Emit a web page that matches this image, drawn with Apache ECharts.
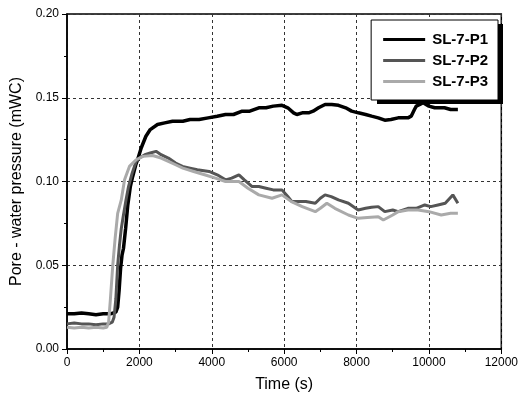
<!DOCTYPE html>
<html>
<head>
<meta charset="utf-8">
<script src="https://cdn.jsdelivr.net/npm/echarts@6/dist/echarts.min.js"></script>
<style>
  html, body { margin: 0; padding: 0; background: #fff; }
  #main { width: 521px; height: 405px; }
</style>
</head>
<body>
<div id="main"></div>
<script>
// series names
var seriesNames = ['SL-7-P1', 'SL-7-P2', 'SL-7-P3'];

// SL-7-P1, time (s) and pressure (mWC)
var p1Time = [0, 200, 400, 600, 800, 1000, 1200, 1350, 1400, 1440, 1480, 1520, 1560, 1620, 1680, 1750, 1815, 1900, 1950, 2050, 2180, 2300, 2500, 2700, 2915, 3200, 3400, 3650, 3900, 4150, 4380, 4600, 4840, 5050, 5300, 5500, 5700, 5940, 6100, 6260, 6350, 6500, 6675, 6800, 6950, 7130, 7315, 7500, 7700, 7865, 8050, 8250, 8415, 8600, 8780, 8950, 9150, 9300, 9420, 9510, 9600, 9650, 9750, 9840, 10000, 10160, 10300, 10430, 10600, 10800];
var p1Value = [0.021, 0.021, 0.0215, 0.021, 0.0205, 0.021, 0.021, 0.022, 0.025, 0.035, 0.048, 0.056, 0.060, 0.072, 0.086, 0.097, 0.103, 0.110, 0.113, 0.120, 0.127, 0.131, 0.134, 0.135, 0.136, 0.136, 0.137, 0.137, 0.138, 0.139, 0.140, 0.140, 0.142, 0.142, 0.144, 0.144, 0.145, 0.1455, 0.144, 0.141, 0.140, 0.141, 0.141, 0.142, 0.144, 0.146, 0.146, 0.1455, 0.144, 0.142, 0.141, 0.140, 0.139, 0.138, 0.1366, 0.137, 0.138, 0.138, 0.138, 0.139, 0.143, 0.145, 0.146, 0.147, 0.145, 0.144, 0.144, 0.144, 0.143, 0.143];

// SL-7-P2
var p2Time = [0, 200, 400, 600, 800, 1000, 1150, 1250, 1300, 1350, 1400, 1450, 1500, 1560, 1630, 1700, 1800, 1910, 2000, 2150, 2300, 2460, 2600, 2800, 3000, 3190, 3400, 3600, 3925, 4150, 4380, 4550, 4750, 4900, 5115, 5300, 5500, 5700, 5940, 6100, 6215, 6400, 6600, 6860, 7000, 7130, 7300, 7500, 7775, 8045, 8250, 8415, 8600, 8780, 9000, 9150, 9420, 9650, 9885, 10050, 10250, 10450, 10660, 10800];
var p2Value = [0.015, 0.0155, 0.015, 0.015, 0.0145, 0.015, 0.015, 0.016, 0.019, 0.030, 0.050, 0.062, 0.072, 0.080, 0.089, 0.097, 0.105, 0.112, 0.114, 0.116, 0.117, 0.118, 0.116, 0.114, 0.111, 0.109, 0.108, 0.107, 0.106, 0.104, 0.101, 0.102, 0.104, 0.101, 0.097, 0.097, 0.096, 0.095, 0.095, 0.091, 0.088, 0.088, 0.088, 0.087, 0.090, 0.092, 0.091, 0.089, 0.087, 0.083, 0.084, 0.0846, 0.085, 0.082, 0.083, 0.082, 0.084, 0.084, 0.086, 0.085, 0.086, 0.087, 0.092, 0.087];

// SL-7-P3
var p3Time = [0, 200, 400, 600, 800, 1000, 1100, 1150, 1200, 1265, 1330, 1400, 1500, 1590, 1725, 1910, 2100, 2365, 2600, 2800, 3000, 3200, 3500, 3800, 4100, 4380, 4750, 5000, 5300, 5665, 5940, 6200, 6500, 6860, 7000, 7180, 7400, 7775, 8045, 8300, 8600, 8740, 9000, 9150, 9420, 9700, 10000, 10340, 10600, 10800];
var p3Value = [0.013, 0.0125, 0.013, 0.0125, 0.013, 0.0125, 0.013, 0.016, 0.030, 0.050, 0.066, 0.081, 0.089, 0.101, 0.109, 0.113, 0.115, 0.1155, 0.114, 0.112, 0.110, 0.108, 0.106, 0.104, 0.102, 0.100, 0.100, 0.096, 0.092, 0.090, 0.092, 0.088, 0.085, 0.082, 0.084, 0.087, 0.084, 0.080, 0.078, 0.0785, 0.079, 0.077, 0.080, 0.082, 0.083, 0.083, 0.082, 0.080, 0.081, 0.081];

function pairs(t, v) {
    var out = [];
    for (var i = 0; i < t.length; i++) out.push([t[i], v[i]]);
    return out;
}

var font = '"Liberation Sans", Arial, sans-serif';
var myChart = echarts.init(document.getElementById('main'));

var option = {
    animation: false,
    backgroundColor: '#fff',
    grid: {
        left: 67, right: 17, top: 14, bottom: 56,
        show: true, borderColor: '#000', borderWidth: 1.5
    },
    // heavy drop shadow behind the legend box
    graphic: [{
        type: 'rect', left: 377, top: 24, z: 1,
        shape: { width: 126, height: 80 },
        style: { fill: '#000' }
    }],
    legend: {
        data: seriesNames,
        orient: 'vertical',
        right: 23, top: 20,
        padding: [12, 10, 11, 12],
        itemGap: 6,
        itemWidth: 42, itemHeight: 3,
        icon: 'rect',
        backgroundColor: '#fff',
        borderColor: '#000', borderWidth: 1,
        z: 5,
        textStyle: { fontFamily: font, fontSize: 15, fontWeight: 'bold', color: '#000', padding: [0, 0, 0, 2] }
    },
    xAxis: {
        type: 'value', min: 0, max: 12000, interval: 2000,
        name: 'Time (s)', nameLocation: 'middle', nameGap: 28,
        nameTextStyle: { fontFamily: font, fontSize: 16, color: '#000' },
        axisLine: { show: true, lineStyle: { color: '#000', width: 1.5 } },
        axisTick: { show: true, inside: false, length: 5, lineStyle: { color: '#000' } },
        minorTick: { show: true, splitNumber: 2, length: 3, lineStyle: { color: '#000' } },
        axisLabel: {
            fontFamily: font, fontSize: 12, color: '#000', margin: 8,
            formatter: function(v) { return String(v); }
        },
        splitLine: { show: true, lineStyle: { color: '#333', type: [3, 3], width: 1 } }
    },
    yAxis: {
        type: 'value', min: 0, max: 0.2, interval: 0.05,
        name: 'Pore - water pressure (mWC)', nameLocation: 'middle', nameGap: 41,
        nameTextStyle: { fontFamily: font, fontSize: 16, color: '#000' },
        axisLine: { show: true, lineStyle: { color: '#000', width: 1.5 } },
        axisTick: { show: true, inside: false, length: 5, lineStyle: { color: '#000' } },
        minorTick: { show: true, splitNumber: 2, length: 3, lineStyle: { color: '#000' } },
        axisLabel: {
            fontFamily: font, fontSize: 12, color: '#000', margin: 8,
            formatter: function(v) { return v.toFixed(2); }
        },
        splitLine: { show: true, lineStyle: { color: '#333', type: [3, 3], width: 1 } }
    },
    series: [
        {
            name: seriesNames[0], type: 'line', showSymbol: false,
            data: pairs(p1Time, p1Value),
            itemStyle: { color: '#000' },
            lineStyle: { color: '#000', width: 3.5 }
        },
        {
            name: seriesNames[1], type: 'line', showSymbol: false,
            data: pairs(p2Time, p2Value),
            itemStyle: { color: '#555' },
            lineStyle: { color: '#555', width: 3 }
        },
        {
            name: seriesNames[2], type: 'line', showSymbol: false,
            data: pairs(p3Time, p3Value),
            itemStyle: { color: '#aaa' },
            lineStyle: { color: '#aaa', width: 3 }
        }
    ]
};

myChart.setOption(option);
</script>
</body>
</html>
